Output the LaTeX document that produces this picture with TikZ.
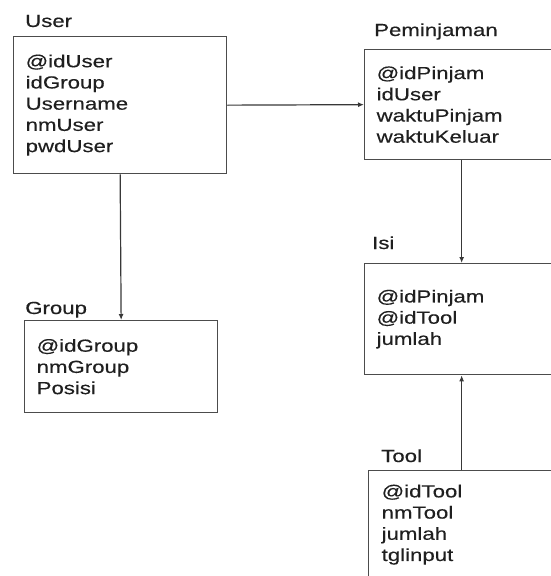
\documentclass[tikz,border=0pt]{standalone}
\usepackage{fontspec}
\setmainfont[FakeStretch=1.27, FakeBold=0.3]{Liberation Sans}
\usetikzlibrary{arrows.meta}

\begin{document}
\begin{tikzpicture}[x=1pt, y=-1pt,
        tabel/.style={draw=black!70, line width=1.3pt, anchor=north west, inner xsep=12pt, inner ysep=0pt,
            align=left, text=black!88, font=\fontsize{17.5}{21.2}\selectfont},
        judul/.style={anchor=base west, inner sep=0pt, text=black!88, font=\fontsize{17.5}{21.2}\selectfont},
        relasi/.style={draw=black!78, line width=1.2pt, -{Latex[length=6pt, width=5pt]}}]
        \useasboundingbox (0,0) rectangle (551,576);
        \clip (0,0) rectangle (551,576);

        % tabel
        \node[tabel, text width=189pt, minimum height=137pt] (user) at (13,36) {@idUser\\idGroup\\Username\\nmUser\\pwdUser};
        \node[tabel, text width=170pt, minimum height=110pt] (pinjam) at (364,49) {@idPinjam\\idUser\\waktuPinjam\\waktuKeluar};
        \node[tabel, text width=169pt, minimum height=92pt] (group) at (24,320) {@idGroup\\nmGroup\\Posisi};
        \node[tabel, text width=170pt, minimum height=111pt] (isi) at (364,263) {@idPinjam\\@idTool\\jumlah};
        \node[tabel, inner xsep=13pt, text width=160pt, minimum height=108pt] (tool) at (368,470) {@idTool\\nmTool\\jumlah\\tglinput};

        % judul tabel
        \node[judul] (juser) at (25,27) {User};
        \node[judul] (jpinjam) at (374,36) {Peminjaman};
        \node[judul] (jgroup) at (25,314) {Group};
        \node[judul] (jisi) at (372,249) {Isi};
        \node[judul] (jtool) at (381,462) {Tool};

        % relasi
        \draw[relasi] (user.east) -- (pinjam.west);
        \draw[relasi] (user.south) -- (group.north);
        \draw[relasi] (pinjam.south) -- (isi.north);
        \draw[relasi] (tool.north) -- (isi.south);
    \end{tikzpicture}
\end{document}
